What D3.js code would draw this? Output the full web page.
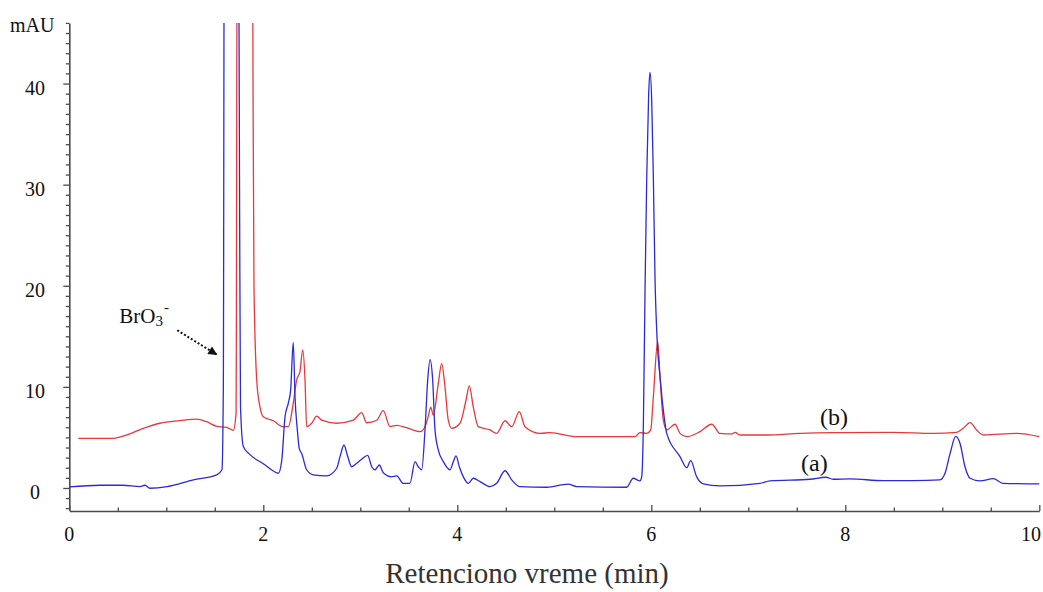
<!DOCTYPE html>
<html>
<head>
<meta charset="utf-8">
<script src="https://cdn.jsdelivr.net/npm/d3@7"></script>
<style>
  html, body { margin: 0; padding: 0; background: #fff; }
  svg { display: block; }
  text { font-family: "Liberation Serif", "Times New Roman", serif; }
</style>
</head>
<body>
<svg id="chart" width="1043" height="592"></svg>
<script>
// ---- Data (retention time in min, absorbance in mAU) ----
// (a) trace - blue
const traceA_t = [0, 0.32, 0.55, 0.73, 0.78, 0.83, 1.01, 1.28, 1.52, 1.574, 1.588, 1.6, 1.739, 1.755, 1.765, 1.794, 1.863, 2.0, 2.138, 2.155, 2.19, 2.224, 2.258, 2.282, 2.309, 2.327, 2.351, 2.371, 2.396, 2.447, 2.515, 2.654, 2.757, 2.791, 2.832, 2.866, 2.911, 2.963, 3.014, 3.076, 3.118, 3.152, 3.196, 3.237, 3.324, 3.375, 3.443, 3.512, 3.564, 3.598, 3.633, 3.667, 3.695, 3.719, 3.746, 3.77, 3.804, 3.856, 3.925, 3.959, 3.987, 4.021, 4.062, 4.113, 4.165, 4.234, 4.337, 4.406, 4.492, 4.561, 4.646, 4.922, 5.144, 5.231, 5.746, 5.814, 5.883, 5.901, 5.918, 5.935, 5.953, 5.973, 5.987, 6.004, 6.021, 6.038, 6.062, 6.09, 6.124, 6.159, 6.296, 6.365, 6.406, 6.468, 6.536, 6.708, 7.121, 7.224, 7.636, 7.801, 7.876, 8.048, 8.392, 8.701, 8.976, 9.028, 9.08, 9.138, 9.183, 9.234, 9.286, 9.389, 9.526, 9.626, 10.0];
const traceA_v = [0.1, 0.27, 0.27, 0.13, 0.27, -0.03, 0.13, 0.8, 1.3, 1.8, 10, 70, 70, 30, 8, 4.1, 3.3, 2.4, 1.5, 1.45, 2.7, 7.05, 8.4, 9.7, 14.4, 9.0, 5.74, 3.9, 3.4, 1.8, 1.3, 1.2, 1.95, 3.1, 4.25, 3.26, 2.1, 2.44, 2.84, 3.23, 2.1, 1.8, 2.27, 1.5, 1.1, 1.19, 0.46, 0.46, 2.6, 2.1, 1.8, 5.74, 10.7, 12.7, 10.7, 5.74, 3.76, 2.6, 1.8, 2.6, 3.17, 2.1, 1.1, 0.46, 0.96, 0.63, 0.13, 0.46, 1.7, 0.8, 0.13, 0.07, 0.37, 0.13, 0.07, 0.96, 0.7, 1.1, 6.1, 19.3, 30.8, 39.0, 41.1, 38.4, 30.8, 20.9, 14.3, 11.0, 7.7, 5.4, 3.1, 2.0, 2.7, 1.1, 0.4, 0.2, 0.46, 0.7, 0.86, 1.06, 0.86, 0.9, 0.72, 0.72, 0.8, 1.45, 3.4, 5.1, 4.4, 2.1, 0.96, 0.7, 0.92, 0.46, 0.4];

// (b) trace - red
const traceB_t = [0.093, 0.454, 0.592, 0.763, 0.935, 1.141, 1.313, 1.416, 1.52, 1.623, 1.691, 1.719, 1.734, 1.884, 1.894, 1.904, 1.932, 1.966, 2.0, 2.103, 2.206, 2.258, 2.309, 2.344, 2.378, 2.406, 2.43, 2.447, 2.499, 2.551, 2.602, 2.757, 2.928, 3.014, 3.066, 3.169, 3.237, 3.306, 3.375, 3.478, 3.616, 3.667, 3.701, 3.726, 3.753, 3.804, 3.839, 3.873, 3.907, 3.942, 4.028, 4.09, 4.124, 4.165, 4.216, 4.337, 4.406, 4.492, 4.561, 4.639, 4.698, 4.853, 4.956, 5.231, 5.832, 5.883, 5.953, 5.994, 6.021, 6.066, 6.09, 6.124, 6.159, 6.245, 6.296, 6.365, 6.502, 6.623, 6.708, 6.829, 6.863, 6.915, 7.19, 7.533, 7.876, 8.495, 8.907, 9.148, 9.216, 9.286, 9.353, 9.423, 9.767, 10.0];
const traceB_v = [4.9, 4.9, 5.24, 5.9, 6.4, 6.65, 6.8, 6.55, 6.1, 6.0, 5.7, 7.4, 70, 70, 40, 20, 10.7, 8.0, 7.05, 6.65, 6.06, 6.06, 8.4, 10.7, 11.5, 13.65, 10.7, 6.06, 6.4, 7.1, 6.7, 6.4, 6.7, 7.45, 6.45, 6.7, 7.65, 6.06, 6.2, 5.96, 5.57, 6.06, 7.1, 8.0, 7.2, 10.35, 12.3, 10.0, 6.7, 5.9, 6.4, 8.7, 10.1, 8.0, 6.06, 5.74, 5.4, 6.65, 6.06, 7.55, 6.06, 5.4, 5.47, 5.07, 5.07, 5.47, 5.4, 5.74, 9.0, 14.5, 11.0, 6.7, 5.74, 6.3, 5.4, 5.07, 5.57, 6.3, 5.4, 5.34, 5.5, 5.24, 5.24, 5.4, 5.47, 5.5, 5.4, 5.5, 5.9, 6.46, 5.74, 5.24, 5.4, 5.07];

const xTickLabels = [0, 2, 4, 6, 8, 10];
const yTickLabels = [0, 10, 20, 30, 40];
const xMinorTicks = d3.range(0, 10.01, 0.5);
const yMinorTicks = d3.range(-2, 46.01, 1);

const seriesNames = ["(a)", "(b)"];
const labelPos = [[7.544, 1.68], [7.74, 6.23]];   // data coords of the series labels
const bro3Text = [0.515, 16.3];
const bro3Arrow = [[1.113, 15.6], [1.526, 13.15]];

// ---- Layout ----
const W = 1043;
const svg = d3.select("#chart");
const x = d3.scaleLinear().domain([0, 10]).range([69.3, 1039.3]);
const y = d3.scaleLinear().domain([-2.2, 46]).range([510.2, 22.9]);

const axisColor = "#4a4a4a";
const blue = "#2a2ad8";
const red = "#e8383a";

// clip
svg.append("defs").append("clipPath").attr("id", "plotClip")
  .append("rect")
  .attr("x", x(0)).attr("y", y(46))
  .attr("width", x(10.02) - x(0)).attr("height", y(-2.2) - y(46));

// arrow marker
svg.select("defs").append("marker")
  .attr("id", "arrowHead")
  .attr("viewBox", "0 0 10 10")
  .attr("refX", 10).attr("refY", 5)
  .attr("markerWidth", 10).attr("markerHeight", 9)
  .attr("markerUnits", "userSpaceOnUse")
  .attr("orient", "auto")
  .append("path").attr("d", "M0,0 L10,5 L0,10 Z").attr("fill", "#111");

// Y axis
const yAxis = d3.axisLeft(y)
  .tickValues(yMinorTicks)
  .tickSizeOuter(0)
  .tickFormat("");
const gy = svg.append("g").attr("transform", `translate(${x(0)},0)`).call(yAxis);
gy.select(".domain").attr("stroke", axisColor).attr("stroke-width", 1.6);
gy.selectAll(".tick line")
  .attr("stroke", axisColor).attr("stroke-width", 1.3)
  .attr("x2", d => (yTickLabels.includes(d) ? -6 : -3.5));

svg.append("g").selectAll("text").data(yTickLabels).join("text")
  .attr("x", 35).attr("y", d => y(d) + 11.5)
  .attr("text-anchor", "middle")
  .attr("font-size", 20).attr("fill", "#111")
  .text(d => d);

// X axis
const xAxis = d3.axisBottom(x)
  .tickValues(xMinorTicks)
  .tickSizeOuter(0)
  .tickFormat("");
const gx = svg.append("g").attr("transform", `translate(0,${y(-2.2) + 0.8})`).call(xAxis);
gx.select(".domain").attr("stroke", axisColor).attr("stroke-width", 1.6);
gx.selectAll(".tick line")
  .attr("stroke", axisColor).attr("stroke-width", 1.3)
  .attr("y2", d => (xTickLabels.includes(d) ? -6 : -3.5));

svg.append("g").selectAll("text").data(xTickLabels).join("text")
  .attr("x", d => Math.min(x(d), W - 12))
  .attr("y", 540.7)
  .attr("text-anchor", "middle")
  .attr("font-size", 20).attr("fill", "#111")
  .text(d => d);

// unit label
svg.append("text").attr("x", 10).attr("y", 32)
  .attr("font-size", 20).attr("fill", "#111").text("mAU");

// axis title
svg.append("text").attr("x", 527).attr("y", 583)
  .attr("text-anchor", "middle")
  .attr("font-size", 29).attr("fill", "#333")
  .text("Retenciono vreme (min)");

// traces
const line = d3.line().x(d => x(d[0])).y(d => y(d[1])).curve(d3.curveMonotoneX);
const dataA = traceA_t.map((t, i) => [t, traceA_v[i]]);
const dataB = traceB_t.map((t, i) => [t, traceB_v[i]]);

const plot = svg.append("g").attr("clip-path", "url(#plotClip)");
plot.append("path").datum(dataB).attr("d", line)
  .attr("fill", "none").attr("stroke", red).attr("stroke-width", 1.3).attr("stroke-linejoin", "round");
plot.append("path").datum(dataA).attr("d", line)
  .attr("fill", "none").attr("stroke", blue).attr("stroke-width", 1.3).attr("stroke-linejoin", "round");

// series labels
svg.append("g").selectAll("text").data(seriesNames).join("text")
  .attr("x", (d, i) => x(labelPos[i][0]))
  .attr("y", (d, i) => y(labelPos[i][1]))
  .attr("font-size", 24).attr("fill", "#111")
  .text(d => d);

// BrO3- annotation
const bt = svg.append("text")
  .attr("x", x(bro3Text[0])).attr("y", y(bro3Text[1]))
  .attr("font-size", 21).attr("fill", "#111");
bt.append("tspan").text("BrO");
bt.append("tspan").attr("font-size", 15).attr("dy", 3).text("3");
bt.append("tspan").attr("font-size", 15).attr("dy", -14).attr("dx", 1).text("-");

svg.append("line")
  .attr("x1", x(bro3Arrow[0][0])).attr("y1", y(bro3Arrow[0][1]))
  .attr("x2", x(bro3Arrow[1][0])).attr("y2", y(bro3Arrow[1][1]))
  .attr("stroke", "#111").attr("stroke-width", 2)
  .attr("stroke-dasharray", "2,2")
  .attr("marker-end", "url(#arrowHead)");
</script>
</body>
</html>
